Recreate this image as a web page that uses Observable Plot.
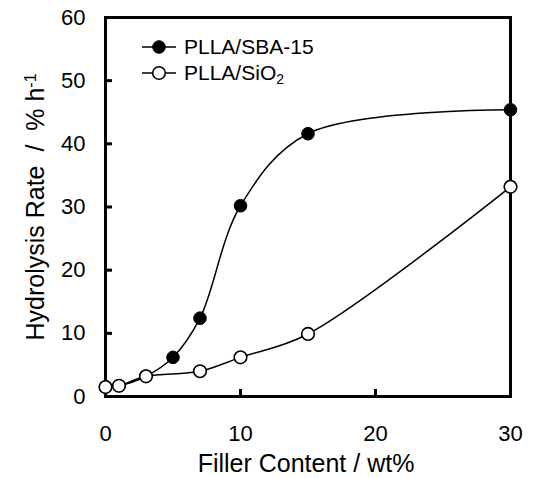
<!DOCTYPE html>
<html>
<head>
<meta charset="utf-8">
<script src="https://cdn.jsdelivr.net/npm/d3@7"></script>
<script src="https://cdn.jsdelivr.net/npm/@observablehq/plot@0.6"></script>
<style>
  html, body { margin: 0; padding: 0; background: #fff; }
  #chart { position: relative; width: 533px; height: 478px; font-family: "Liberation Sans", Arial, Helvetica, sans-serif; }
  #chart svg { display: block; }
  .legend { position: absolute; left: 139px; top: 34px; font-size: 21px; color: #000; line-height: 26px; }
  .legend .row { display: flex; align-items: center; height: 26px; white-space: nowrap; }
  .legend svg { margin-right: 5px; }
  .legend sub { font-size: 14px; vertical-align: -4px; line-height: 0; }
</style>
</head>
<body>
<div id="chart"></div>
<script>
// Hydrolysis rate (% per hour) against filler content (wt%)
const sba15Content = [0, 1, 3, 5, 7, 10, 15, 30];
const sba15Rate    = [1.5, 1.7, 3.2, 6.2, 12.4, 30.2, 41.6, 45.4];
const sio2Content  = [0, 1, 3, 7, 10, 15, 30];
const sio2Rate     = [1.5, 1.7, 3.2, 4.0, 6.2, 9.9, 33.2];

const xTicks = [0, 10, 20, 30];
const yTicks = [0, 10, 20, 30, 40, 50, 60];
const xInnerTicks = [10, 20];
const yInnerTicks = [10, 20, 30, 40, 50];

const seriesNames = ["PLLA/SBA-15", "PLLA/SiO2"];
const xLabel = "Filler Content / wt%";
const yLabel = "Hydrolysis Rate\u00a0\u00a0/\u00a0\u00a0% h";

const sba15 = sba15Content.map((x, i) => ({x, y: sba15Rate[i]}));
const sio2 = sio2Content.map((x, i) => ({x, y: sio2Rate[i]}));

const W = 533, H = 478;
const mL = 105, mR = 23, mT = 17, mB = 82;
const tickLen = 7;

const chart = Plot.plot({
  width: W,
  height: H,
  marginLeft: mL,
  marginRight: mR,
  marginTop: mT,
  marginBottom: mB,
  style: {fontFamily: "'Liberation Sans', Arial, Helvetica, sans-serif", fontSize: "22px", color: "#000", background: "#fff", overflow: "visible"},
  x: {domain: [0, 30]},
  y: {domain: [0, 60]},
  marks: [
    Plot.axisX({ticks: xTicks, tickSize: 0, tickPadding: 29, fontSize: 22, label: null}),
    Plot.axisY({ticks: yTicks, tickSize: 0, tickPadding: 20, fontSize: 22, label: null}),
    // inward ticks on the bottom and left edges
    Plot.tickX(xInnerTicks, {x: d => d, insetTop: (H - mT - mB) - tickLen, stroke: "#000", strokeWidth: 3}),
    Plot.tickY(yInnerTicks, {y: d => d, insetRight: (W - mL - mR) - tickLen, stroke: "#000", strokeWidth: 3}),
    Plot.frame({stroke: "#000", strokeWidth: 3}),
    Plot.line(sba15, {x: "x", y: "y", curve: "catmull-rom", stroke: "#000", strokeWidth: 1.5}),
    Plot.line(sio2, {x: "x", y: "y", curve: "catmull-rom", stroke: "#000", strokeWidth: 1.5}),
    Plot.dot(sba15, {x: "x", y: "y", r: 6.3, fill: "#000", stroke: "#000", strokeWidth: 1}),
    Plot.dot(sio2, {x: "x", y: "y", r: 6.3, fill: "#fff", stroke: "#000", strokeWidth: 1.6}),
    Plot.text([xLabel], {text: d => d, frameAnchor: "bottom", textAnchor: "middle", dx: -2, dy: 75, fontSize: 25, fill: "#000"}),
    Plot.text([yLabel], {text: d => d, frameAnchor: "left", textAnchor: "middle", rotate: -90, dx: -70, dy: 0, fontSize: 25, fill: "#000"})
  ]
});

// superscript −1 on the unit of the y label
d3.select(chart).selectAll("text")
  .filter(function () { return this.textContent === yLabel; })
  .append("tspan")
  .attr("baseline-shift", "super")
  .attr("font-size", 16)
  .text("-1");

const root = document.getElementById("chart");
root.appendChild(chart);

// legend inside the plot area
const legend = document.createElement("div");
legend.className = "legend";
const symbol = (filled) =>
  `<svg width="40" height="26"><line x1="3" y1="13" x2="37" y2="13" stroke="#000" stroke-width="1.5"/>` +
  `<circle cx="20" cy="13" r="6.3" fill="${filled ? "#000" : "#fff"}" stroke="#000" stroke-width="${filled ? 1 : 1.6}"/></svg>`;
legend.innerHTML =
  `<div class="row">${symbol(true)}<span>${seriesNames[0]}</span></div>` +
  `<div class="row">${symbol(false)}<span>${seriesNames[1].replace(/2$/, "<sub>2</sub>")}</span></div>`;
root.appendChild(legend);
</script>
</body>
</html>
